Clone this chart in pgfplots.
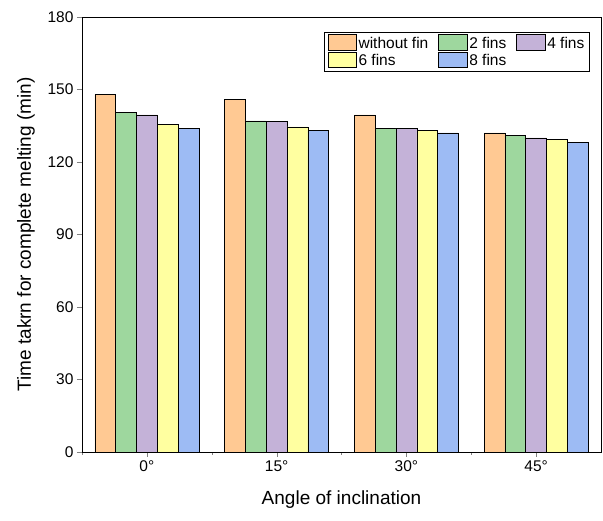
\documentclass[border=0pt]{standalone}
\usepackage{pgfplots}
\pgfplotsset{compat=1.18}
\usepackage{fontspec}
\setmainfont{Liberation Sans}
\definecolor{c1}{HTML}{FFC993}
\definecolor{c2}{HTML}{9ED79E}
\definecolor{c3}{HTML}{C4B2D8}
\definecolor{c4}{HTML}{FFFFA0}
\definecolor{c5}{HTML}{9DBBF4}
\begin{document}
\begin{tikzpicture}
\begin{axis}[
  width=519pt, height=435pt, scale only axis,
  ybar=0pt, bar width=0.16,
  xmin=-0.5, xmax=3.5, ymin=0, ymax=180,
  ytick={0,30,...,180},
  xtick={0,1,2,3}, xticklabels={0°,15°,30°,45°},
  minor xtick={-0.5,0.5,1.5,2.5},
  tick align=outside, xtick pos=bottom, ytick pos=left,
  major tick length=5pt, minor tick length=3pt,
  /pgf/number format/assume math mode=true,
  tick label style={font=\fontsize{15.5}{18}\selectfont},
  xlabel={Angle of inclination}, ylabel={Time takrn for complete melting (min)},
  label style={font=\fontsize{19}{22}\selectfont},
  xlabel style={yshift=-12pt},
  ylabel style={yshift=6pt},
  legend columns=3, legend cell align=left,
  legend style={at={(0.978,0.965)}, anchor=north east, font=\fontsize{15.5}{18}\selectfont, draw=black,
    /tikz/every even column/.append style={column sep=8pt}},
  legend image code/.code={\draw[#1] (0cm,-0.24cm) rectangle (1.0cm,0.3cm);},
  every axis plot/.append style={draw=black, line width=0.5pt},
]
\addplot[fill=c1] coordinates {(0,148) (1,146) (2,139.5) (3,132)};
\addplot[fill=c2] coordinates {(0,140.5) (1,137) (2,134) (3,131)};
\addplot[fill=c3] coordinates {(0,139.5) (1,136.8) (2,133.8) (3,130)};
\addplot[fill=c4] coordinates {(0,135.5) (1,134.5) (2,133) (3,129.5)};
\addplot[fill=c5] coordinates {(0,134) (1,133) (2,132) (3,128)};
\legend{without fin, 2 fins, 4 fins, 6 fins, 8 fins}
\end{axis}
\pgfresetboundingbox
\path (-82pt,-69pt) rectangle (521pt,452pt);
\end{tikzpicture}
\end{document}
